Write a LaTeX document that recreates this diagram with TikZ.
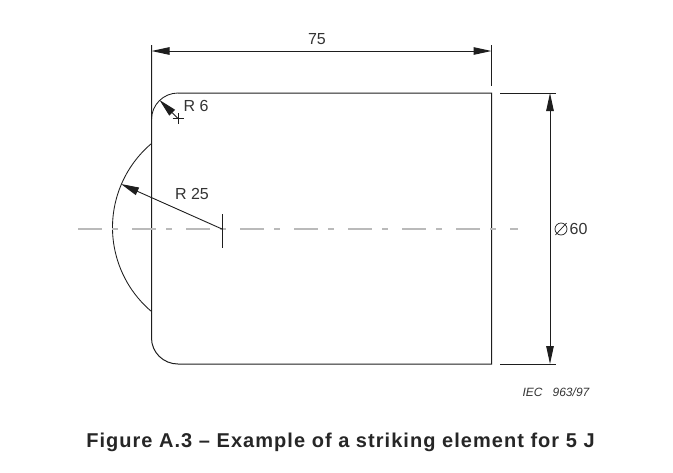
\documentclass[tikz,border=0pt]{standalone}
\usepackage{fontspec}
\setmainfont{Liberation Sans}
\usetikzlibrary{arrows.meta}
\definecolor{ink}{RGB}{30,30,30}
\tikzset{
  x=1pt,y=-1pt,
  outline/.style={draw=ink,line width=1pt},
  thinline/.style={draw=ink,line width=0.85pt},
  dim/.style={draw=ink,line width=1pt,{Triangle[length=18pt,width=7.5pt]}-{Triangle[length=18pt,width=7.5pt]}},
  leader/.style={draw=ink,line width=0.9pt,-{Triangle[length=18pt,width=8pt]}},
  centerline/.style={draw=black!27,line width=1.2pt,dash pattern=on 24pt off 10pt on 6pt off 14pt},
  lab/.style={inner sep=0pt,text=black!80,font=\fontsize{16}{18}\selectfont},
}
\begin{document}
\begin{tikzpicture}
\useasboundingbox (0,0) rectangle (673,472);
\coordinate (ltop) at (151.5,45);
\coordinate (lend) at (151.5,338);
\coordinate (ttl) at (178,93);
\coordinate (tr) at (491.5,93);
\coordinate (br) at (491.5,364);
\coordinate (bl) at (178,364);
\coordinate (rtop) at (491.5,45);
\coordinate (rbot) at (491.5,86);
\coordinate (da) at (151.5,51);
\coordinate (db) at (491.5,51);
\coordinate (ea) at (500,93);
\coordinate (eb) at (556,93);
\coordinate (ec) at (500,364);
\coordinate (ed) at (556,364);
\coordinate (va) at (550,93);
\coordinate (vb) at (550,364);
\coordinate (cla) at (78,229);
\coordinate (clb) at (518,229);
\coordinate (cen) at (222,229);
\coordinate (tka) at (222,214);
\coordinate (tkb) at (222,248);
\coordinate (rim) at (121,184);
\coordinate (r6c) at (178,118.5);
\coordinate (r6r) at (159.5,100);
\coordinate (cxa) at (172.5,118.5);
\coordinate (cxb) at (183.5,118.5);
\coordinate (cya) at (178,113);
\coordinate (cyb) at (178,124);
% outline
\draw[outline] (ltop) -- (lend) arc[start angle=180,end angle=270,x radius=26.5pt,y radius=26pt] -- (br) -- (tr) -- (ttl);
\draw[outline] (rtop) -- (rbot);
\draw[thinline] (151.5,119.5) arc[start angle=180,end angle=90,x radius=26.5pt,y radius=26.5pt];
\draw[thinline] (151.5,143.5) arc[start angle=130.2,end angle=229.8,radius=110pt];
% extension lines and dimensions
\draw[outline] (ea) -- (eb);
\draw[outline] (ec) -- (ed);
\draw[dim] (da) -- (db);
\draw[dim] (va) -- (vb);
% centre line
\draw[centerline] (cla) -- (clb);
\draw[thinline] (tka) -- (tkb);
% radii
\draw[leader] (cen) -- (rim);
\draw[thinline] (cxa) -- (cxb);
\draw[thinline] (cya) -- (cyb);
\draw[leader] (r6c) -- (r6r);
% labels
\node[lab] (t75) at (317,39) {75};
\node[lab] (tr6) at (196,106) {R 6};
\node[lab] (tr25) at (192,194) {R 25};
\node[lab,anchor=west] (t60) at (569.5,229) {60};
\draw[draw=ink,line width=0.7pt] (561,229) circle[radius=6pt];
\draw[draw=ink,line width=0.7pt] (555.5,235) -- (566.5,223);
\node[inner sep=0pt,text=black!80,font=\itshape\fontsize{12}{14}\selectfont] (iec) at (556,392) {IEC\ \ \ 963/97};
\node[inner sep=0pt,text=black!85,font=\bfseries\fontsize{20}{22}\selectfont\addfontfeature{LetterSpace=5.2}] (cap) at (340.5,442.5) {Figure A.3 – Example of a striking element for 5 J};
\end{tikzpicture}
\end{document}
